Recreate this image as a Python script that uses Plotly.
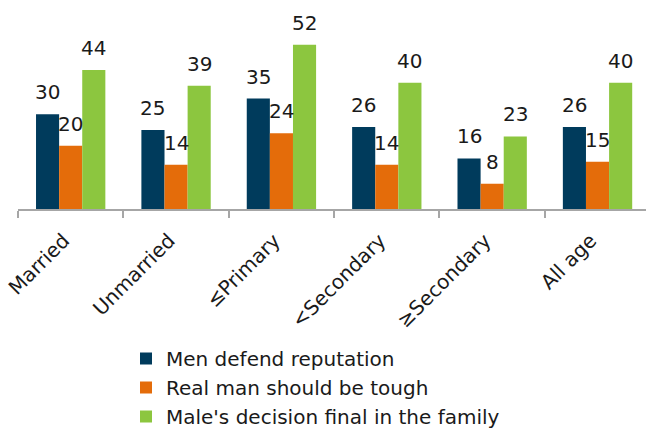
import plotly.graph_objects as go

categories = ["Married", "Unmarried", "≤Primary", "<Secondary", "≥Secondary", "All age"]
series_names = ["Men defend reputation", "Real man should be tough", "Male's decision final in the family"]
men_defend = [30, 25, 35, 26, 16, 26]
real_man = [20, 14, 24, 14, 8, 15]
male_decision = [44, 39, 52, 40, 23, 40]
colors = ["#003B5C", "#E46C0A", "#8CC63F"]

W, H = 646, 429
ML, MR, MT, MB = 18, 0, 0, 220
BARGAP = 0.342
XMAX = 5.46
FONT = "DejaVu Sans"
FS = 20

fig = go.Figure()
all_vals = [men_defend, real_man, male_decision]
for name, vals, c in zip(series_names, all_vals, colors):
    fig.add_trace(go.Bar(x=categories, y=vals, name=name, marker_color=c,
                         marker_line_width=0))

plot_w = W - ML - MR
cat_px = plot_w / (XMAX + 0.5)
bar_px = cat_px * (1 - BARGAP) / 3
for i, vals in enumerate(all_vals):
    for cat, v in zip(categories, vals):
        fig.add_annotation(x=cat, y=v, text=str(v), showarrow=False,
                           xshift=(i - 1) * bar_px, yshift=22, yanchor="middle",
                           font=dict(family=FONT, size=FS, color="#1a1a1a"))

fig.update_layout(
    width=W, height=H,
    margin=dict(l=ML, r=MR, t=MT, b=MB, autoexpand=False),
    paper_bgcolor="white", plot_bgcolor="white",
    barmode="group", bargap=BARGAP, bargroupgap=0,
    font=dict(family=FONT, size=FS, color="#1a1a1a"),
    legend=dict(orientation="v", xref="container", yref="container",
                x=126 / W, y=1 - 339 / H, xanchor="left", yanchor="top",
                font=dict(family=FONT, size=FS), tracegroupgap=0,
                itemclick=False),
    showlegend=True,
)
fig.update_xaxes(range=[-0.5, XMAX], showline=True, linecolor="#A6A6A6", linewidth=2,
                 ticks="outside", tickson="boundaries", ticklen=7, tickcolor="#A6A6A6",
                 tickwidth=2, tickangle=-45, automargin=False, showgrid=False,
                 ticklabelstandoff=10, ticklabelshift=-7,
                 tickfont=dict(family=FONT, size=FS))
fig.update_yaxes(range=[0, 66.2], visible=False, showgrid=False, zeroline=False)

fig.write_html("out.html")
